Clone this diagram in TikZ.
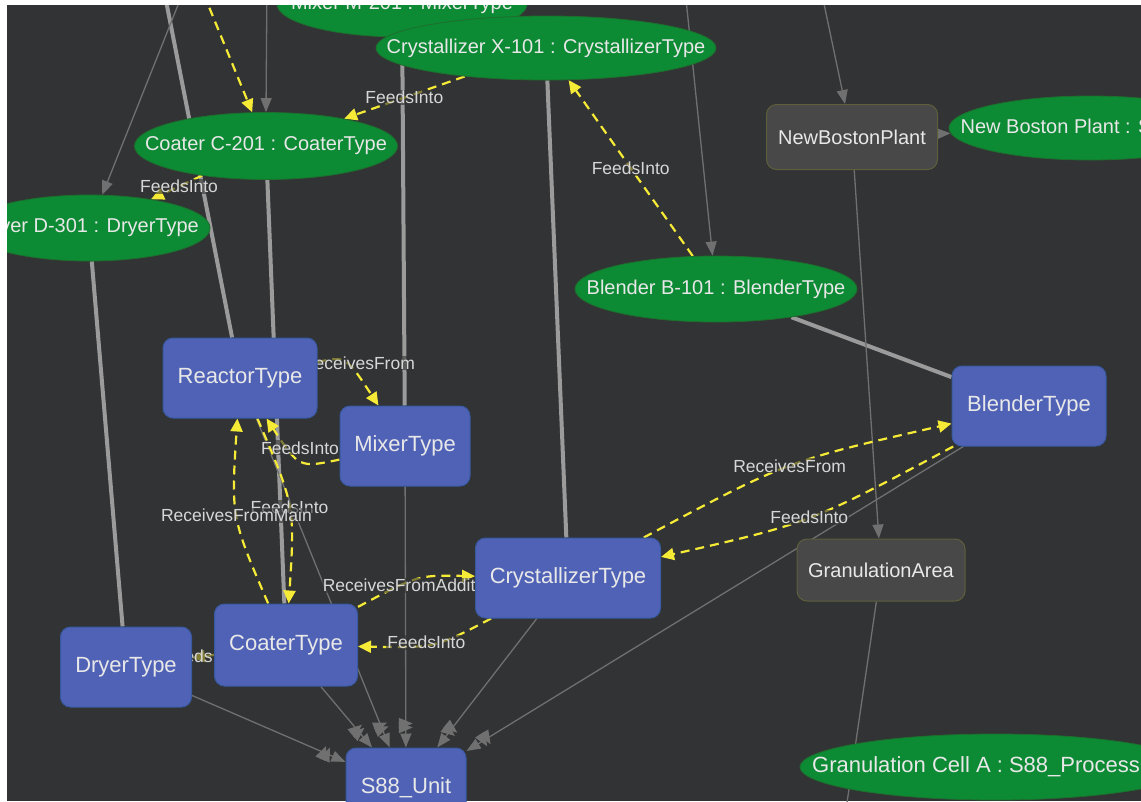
\documentclass[tikz,border=0pt]{standalone}
\usepackage{fontspec}
\setmainfont{Liberation Sans}
\usetikzlibrary{shapes.geometric,arrows.meta,decorations.markings}
\pgfdeclarelayer{bottom}
\pgfdeclarelayer{background}
\pgfsetlayers{bottom,background,main}
\definecolor{bg}{RGB}{50,51,53}
\definecolor{instgreen}{RGB}{12,138,52}
\definecolor{instborder}{RGB}{30,110,45}
\definecolor{typeblue}{RGB}{80,98,182}
\definecolor{typeborder}{RGB}{55,90,160}
\definecolor{plantgray}{RGB}{72,72,72}
\definecolor{plantborder}{RGB}{95,95,60}
\definecolor{txtcol}{RGB}{232,232,232}
\definecolor{lblcol}{RGB}{215,215,215}
\definecolor{linkgray}{RGB}{155,155,155}
\definecolor{relgray}{RGB}{112,112,112}
\definecolor{ylw}{RGB}{245,235,55}
\newcommand{\zw}[1]{\makebox[0pt]{#1}}
\tikzset{
  nodefont/.style={font=\fontsize{20}{24}\selectfont},
  typefont/.style={font=\fontsize{22}{26}\selectfont},
  inst/.style={ellipse, fill=instgreen, draw=instborder, line width=0.8pt, text=txtcol, nodefont, inner sep=0pt},
  typebox/.style={rectangle, rounded corners=10pt, fill=typeblue, draw=typeborder, line width=1pt, text=txtcol, typefont, inner sep=0pt},
  plantbox/.style={rectangle, rounded corners=10pt, fill=plantgray, draw=plantborder, line width=1pt, text=txtcol, nodefont, inner sep=0pt},
  instlink/.style={draw=linkgray, line width=4pt},
  rel/.style={draw=relgray, line width=1.3pt, -{Triangle[length=14pt,width=11pt]}},
  plainrel/.style={draw=relgray, line width=1.3pt},
  unitrel/.style={rel, postaction={decorate}, decoration={markings,
     mark=at position -20pt with {\draw[draw=relgray, line width=1.8pt] (0pt,-7pt) -- (0pt,7pt);},
     mark=at position -24pt with {\draw[draw=relgray, line width=1.8pt] (0pt,-7pt) -- (0pt,7pt);}}},
  prop/.style={draw=ylw, line width=2.2pt, dash pattern=on 9pt off 6pt, -{Triangle[length=13pt,width=12pt]}},
  lbl/.style={text=lblcol, font=\fontsize{17.5}{20}\selectfont, fill=bg, fill opacity=0.6, text opacity=1, inner sep=1pt}
}
\begin{document}
\begin{tikzpicture}[x=1pt,y=-1pt]
\useasboundingbox (0,0) rectangle (1141,801);
\begin{pgfonlayer}{bottom}
  \fill[white] (0,0) rectangle (1141,801);
  \fill[bg] (7,5) rectangle (1141,801);
\end{pgfonlayer}

\begin{scope}
\clip (7,5) rectangle (1141,801);
% instance ellipses
\node[inst, minimum width=250pt, minimum height=66pt] (mixerI) at (402,4) {\zw{Mixer M-201 : MixerType}};
\node[inst, minimum width=340pt, minimum height=64pt] (crystI) at (546,48) {\zw{Crystallizer X-101 : CrystallizerType}};
\node[inst, minimum width=263pt, minimum height=67pt] (coaterI) at (266,146) {\zw{Coater C-201 : CoaterType}};
\node[inst, minimum width=242pt, minimum height=66pt] (dryerI) at (89,228) {\zw{Dryer D-301 : DryerType}};
\node[inst, minimum width=282pt, minimum height=66pt] (blenderI) at (716,289) {\zw{Blender B-101 : BlenderType}};
\node[inst, minimum width=282pt, minimum height=64pt] (nbpI) at (1090,128) {\zw{New Boston Plant : S88\_Site}};
\node[inst, minimum width=390pt, minimum height=66pt, font=\fontsize{22}{26}\selectfont] (granI) at (995,767) {\zw{Granulation Cell A : S88\_ProcessCell}};
% type boxes
\node[typebox, minimum width=154pt, minimum height=80pt] (reactorT) at (240,378) {ReactorType};
\node[typebox, minimum width=130pt, minimum height=80pt] (mixerT) at (405,446) {MixerType};
\node[typebox, minimum width=154pt, minimum height=80pt] (blenderT) at (1029,406) {BlenderType};
\node[typebox, minimum width=185pt, minimum height=80pt] (crystT) at (568,578) {CrystallizerType};
\node[typebox, minimum width=143pt, minimum height=82pt] (coaterT) at (286,645) {CoaterType};
\node[typebox, minimum width=131pt, minimum height=80pt] (dryerT) at (126,667) {DryerType};
\node[typebox, minimum width=120pt, minimum height=80pt] (s88) at (406,788) {S88\_Unit};
% plant boxes
\node[plantbox, minimum width=171pt, minimum height=65pt] (nbp) at (852,137) {NewBostonPlant};
\node[plantbox, minimum width=168pt, minimum height=62pt] (gran) at (881,570) {GranulationArea};
% off-screen ends
\coordinate (offR) at (160,-30);
\coordinate (offD) at (188,-20);
\coordinate (offC) at (267,-20);
\coordinate (offY) at (198,-20);
\coordinate (offB) at (684,-20);
\coordinate (offN) at (819,-20);
\coordinate (offG) at (843,830);
\end{scope}

\begin{pgfonlayer}{background}
\begin{scope}
\clip (7,5) rectangle (1141,801);
% instance links
\draw[instlink] (offR) -- (reactorT);
\draw[instlink] (coaterI) -- (coaterT);
\draw[instlink] (dryerI) -- (dryerT);
\draw[instlink] (crystI) -- (crystT);
\draw[instlink] (mixerI) -- (mixerT);
\draw[instlink] (blenderI) -- (blenderT);
% thin relations
\draw[rel] (offD) -- (dryerI);
\draw[rel] (offC) -- (coaterI.north);
\draw[rel] (offB) -- (blenderI);
\draw[rel] (offN) -- (nbp);
\draw[rel] (nbp) -- (nbpI);
\draw[rel] (nbp) -- (gran);
\draw[plainrel] (gran) -- (offG);
\draw[unitrel] (dryerT) -- (s88);
\draw[unitrel] (coaterT) -- (s88);
\draw[unitrel] (reactorT) -- (s88);
\draw[unitrel] (mixerT) -- (s88);
\draw[unitrel] (crystT) -- (s88);
\draw[unitrel] (blenderT) -- (s88);
% property links
\draw[prop] (offY) -- (coaterI);
\draw[prop] (crystI) -- (coaterI) node[lbl, pos=0.5] {FeedsInto};
\draw[prop] (coaterI) -- (dryerI) node[lbl, pos=0.45] {FeedsInto};
\draw[prop] (blenderI) -- (crystI) node[lbl, pos=0.5] {FeedsInto};
\draw[prop] (reactorT) .. controls (346,356) .. (mixerT) node[lbl, pos=0.5, xshift=12pt] {ReceivesFrom};
\draw[prop] (mixerT) .. controls (299,468) .. (reactorT) node[lbl, pos=0.5, yshift=13pt] {FeedsInto};
\draw[prop] (reactorT) .. controls (295,506) .. (coaterT) node[lbl, pos=0.5] {FeedsInto};
\draw[prop] (coaterT) .. controls (231,517) .. (reactorT) node[lbl, pos=0.5] {ReceivesFromMain};
\draw[prop] (coaterT) .. controls (418,575) .. (crystT) node[lbl, pos=0.5, yshift=-6pt] {ReceivesFromAdditional};
\draw[prop] (crystT) .. controls (435,648) .. (coaterT) node[lbl, pos=0.5, xshift=-6pt, yshift=2pt] {FeedsInto};
\draw[prop] (crystT) .. controls (787,461) .. (blenderT) node[lbl, pos=0.5] {ReceivesFrom};
\draw[prop] (blenderT) .. controls (810,523) .. (crystT) node[lbl, pos=0.5] {FeedsInto};
\draw[prop] (coaterT) -- (dryerT) node[lbl, pos=0.5] {FeedsInto};
\end{scope}
\end{pgfonlayer}
\end{tikzpicture}
\end{document}
